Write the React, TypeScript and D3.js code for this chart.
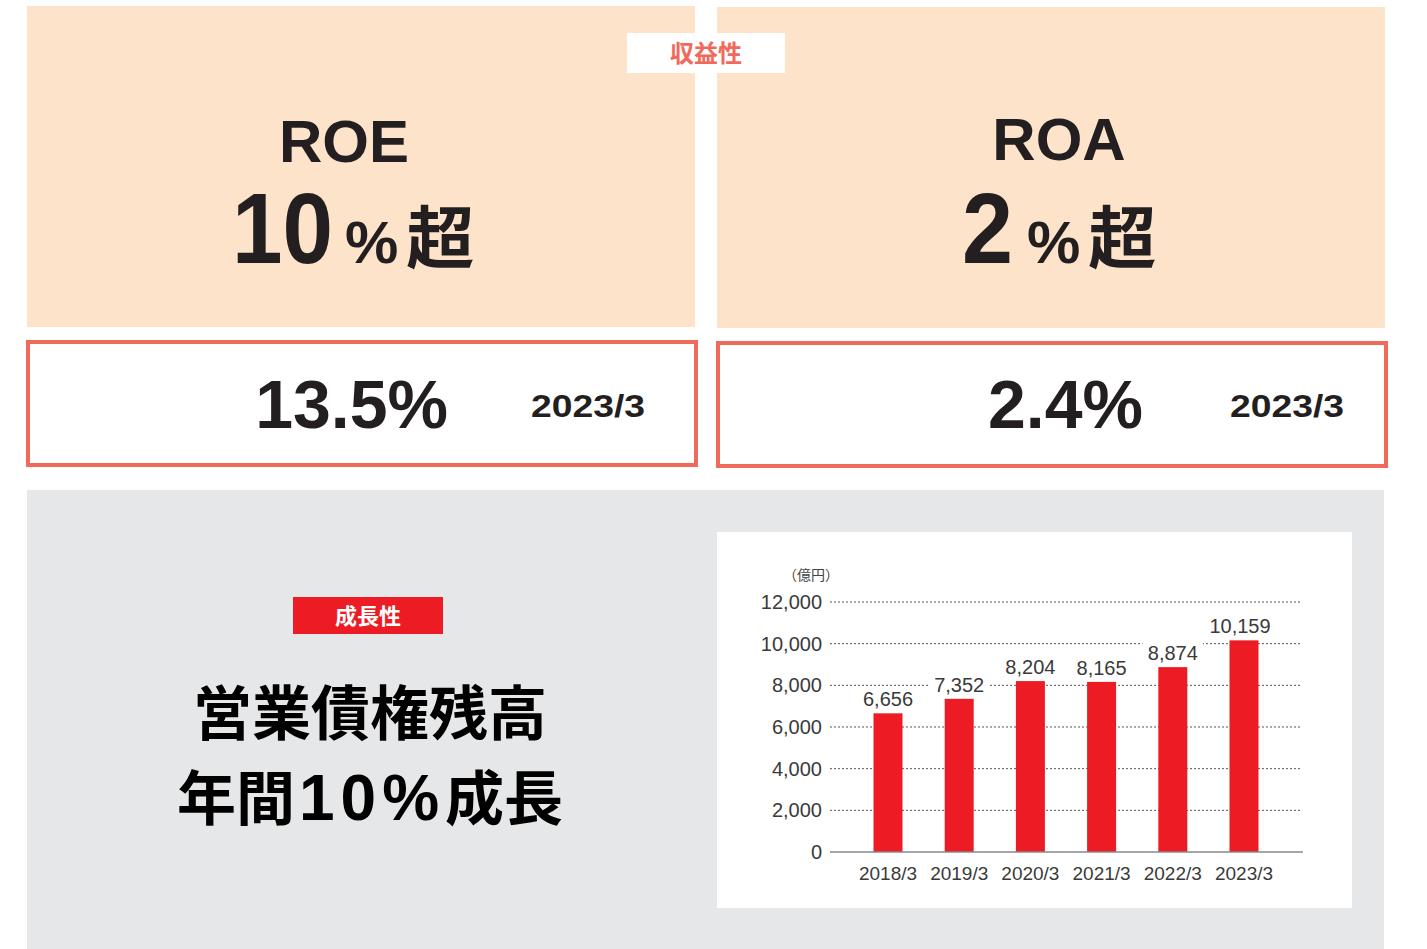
import React from 'react';
import * as d3 from 'd3';

// 営業債権残高（億円）
const years = ['2018/3', '2019/3', '2020/3', '2021/3', '2022/3', '2023/3'];
const balances = [6656, 7352, 8204, 8165, 8874, 10159];
const yTicks = [0, 2000, 4000, 6000, 8000, 10000, 12000];

const kpis = [
  { name: 'ROE', target: '10', actual: '13.5%', period: '2023/3' },
  { name: 'ROA', target: '2', actual: '2.4%', period: '2023/3' },
];

const PEACH = '#fde3c9';
const CORAL = '#f06a5b';
const RED = '#ed1c24';
const INK = '#231f20';
const LATIN = '"Liberation Sans", Arial, sans-serif';
const CJK = '"Noto Sans CJK JP", "Noto Sans", sans-serif';

const fmt = d3.format(',');

const App = () => {
  const y = d3.scaleLinear().domain([0, 12000]).range([852, 602]);
  const x = d3.scalePoint().domain(years).range([888, 1244]);
  const barW = 29;

  // top panel geometry per KPI
  const panels = [
    { x0: 27, cx: 344, numX: 333, numW: 101, pctX: 345, actEnd: 448, perX: 531 },
    { x0: 717, cx: 1059, numX: 1013, numW: 51, pctX: 1027, actEnd: 1143, perX: 1230 },
  ];

  return (
    <svg
      width={1427}
      height={949}
      style={{ position: 'absolute', left: 0, top: 0, background: '#fff' }}
    >
      {kpis.map((k, i) => {
        const p = panels[i];
        return (
          <g key={k.name}>
            <rect x={p.x0} y={6 + i} width={668} height={321} fill={PEACH} />
            <text
              x={p.cx}
              y={162 - i * 2}
              textAnchor="middle"
              fontFamily={LATIN}
              fontWeight="bold"
              fontSize={60}
              fill={INK}
            >
              {k.name}
            </text>
            <text
              x={p.numX - p.numW}
              y={263}
              fontFamily={LATIN}
              fontWeight="bold"
              fontSize={100}
              textLength={p.numW}
              lengthAdjust="spacingAndGlyphs"
              fill={INK}
            >
              {k.target}
            </text>
            <text
              x={p.pctX}
              y={263}
              fontFamily={LATIN}
              fontWeight="bold"
              fontSize={60}
              fill={INK}
            >
              %
              <tspan fontFamily={CJK} fontSize={68} dx={8}>
                超
              </tspan>
            </text>
            <rect
              x={p.x0 + 1}
              y={342 + i}
              width={668}
              height={123}
              fill="#fff"
              stroke={CORAL}
              strokeWidth={4}
            />
            <text
              x={p.actEnd}
              y={428}
              textAnchor="end"
              fontFamily={LATIN}
              fontWeight="bold"
              fontSize={68}
              fill={INK}
            >
              {k.actual}
            </text>
            <text
              x={p.perX}
              y={417}
              fontFamily={LATIN}
              fontWeight="bold"
              fontSize={31}
              textLength={114}
              lengthAdjust="spacingAndGlyphs"
              fill={INK}
            >
              {k.period}
            </text>
          </g>
        );
      })}

      {/* 収益性 label */}
      <rect x={627} y={33} width={158} height={40} fill="#fff" />
      <text
        x={706}
        y={62}
        textAnchor="middle"
        fontFamily={CJK}
        fontWeight="bold"
        fontSize={24}
        fill={CORAL}
      >
        収益性
      </text>

      {/* growth section */}
      <rect x={27} y={490} width={1357} height={459} fill="#e6e7e8" />
      <rect x={293} y={597} width={150} height={37} fill={RED} />
      <text
        x={368}
        y={624}
        textAnchor="middle"
        fontFamily={CJK}
        fontWeight="bold"
        fontSize={22}
        fill="#fff"
      >
        成長性
      </text>
      <text
        x={370}
        y={735}
        textAnchor="middle"
        fontFamily={CJK}
        fontWeight="bold"
        fontSize={59}
        fill="#000"
      >
        営業債権残高
      </text>
      <text
        x={370}
        y={820}
        textAnchor="middle"
        fontFamily={CJK}
        fontWeight="bold"
        fontSize={59}
        fill="#000"
      >
        年間
        <tspan fontFamily={LATIN} fontSize={64} letterSpacing={6} dx={4}>
          10%
        </tspan>
        成長
      </text>

      {/* bar chart */}
      <rect x={717} y={532} width={635} height={376} fill="#fff" />
      <text x={783} y={580} fontFamily={CJK} fontSize={14} fill="#444">
        （億円）
      </text>
      {yTicks.map(t => (
        <g key={t}>
          {t > 0 && (
            <line
              x1={830}
              x2={1302}
              y1={y(t)}
              y2={y(t)}
              stroke="#555"
              strokeWidth={1}
              strokeDasharray="2,2"
            />
          )}
          <text
            x={822}
            y={y(t) + 7}
            textAnchor="end"
            fontFamily={LATIN}
            fontSize={20}
            fill="#3a3a3a"
          >
            {fmt(t)}
          </text>
        </g>
      ))}
      {balances.map((v, i) => (
        <rect
          key={years[i]}
          x={(x(years[i]) as number) - barW / 2}
          y={y(v)}
          width={barW}
          height={y(0) - y(v)}
          fill={RED}
        />
      ))}
      {balances.map((v, i) => {
        const cx = (x(years[i]) as number) - (v >= 10000 ? 4 : 0);
        const w = fmt(v).length * 10.5 + 8;
        return (
          <g key={'l' + years[i]}>
            <rect x={cx - w / 2} y={y(v) - 27} width={w} height={22} fill="#fff" />
            <text
              x={cx}
              y={y(v) - 7}
              textAnchor="middle"
              fontFamily={LATIN}
              fontSize={20}
              fill="#3a3a3a"
            >
              {fmt(v)}
            </text>
          </g>
        );
      })}
      <line x1={830} x2={1303} y1={y(0)} y2={y(0)} stroke="#888" strokeWidth={1.5} />
      {years.map(yr => (
        <text
          key={yr}
          x={x(yr) as number}
          y={880}
          textAnchor="middle"
          fontFamily={LATIN}
          fontSize={19}
          fill="#3a3a3a"
        >
          {yr}
        </text>
      ))}
    </svg>
  );
};

export default App;
